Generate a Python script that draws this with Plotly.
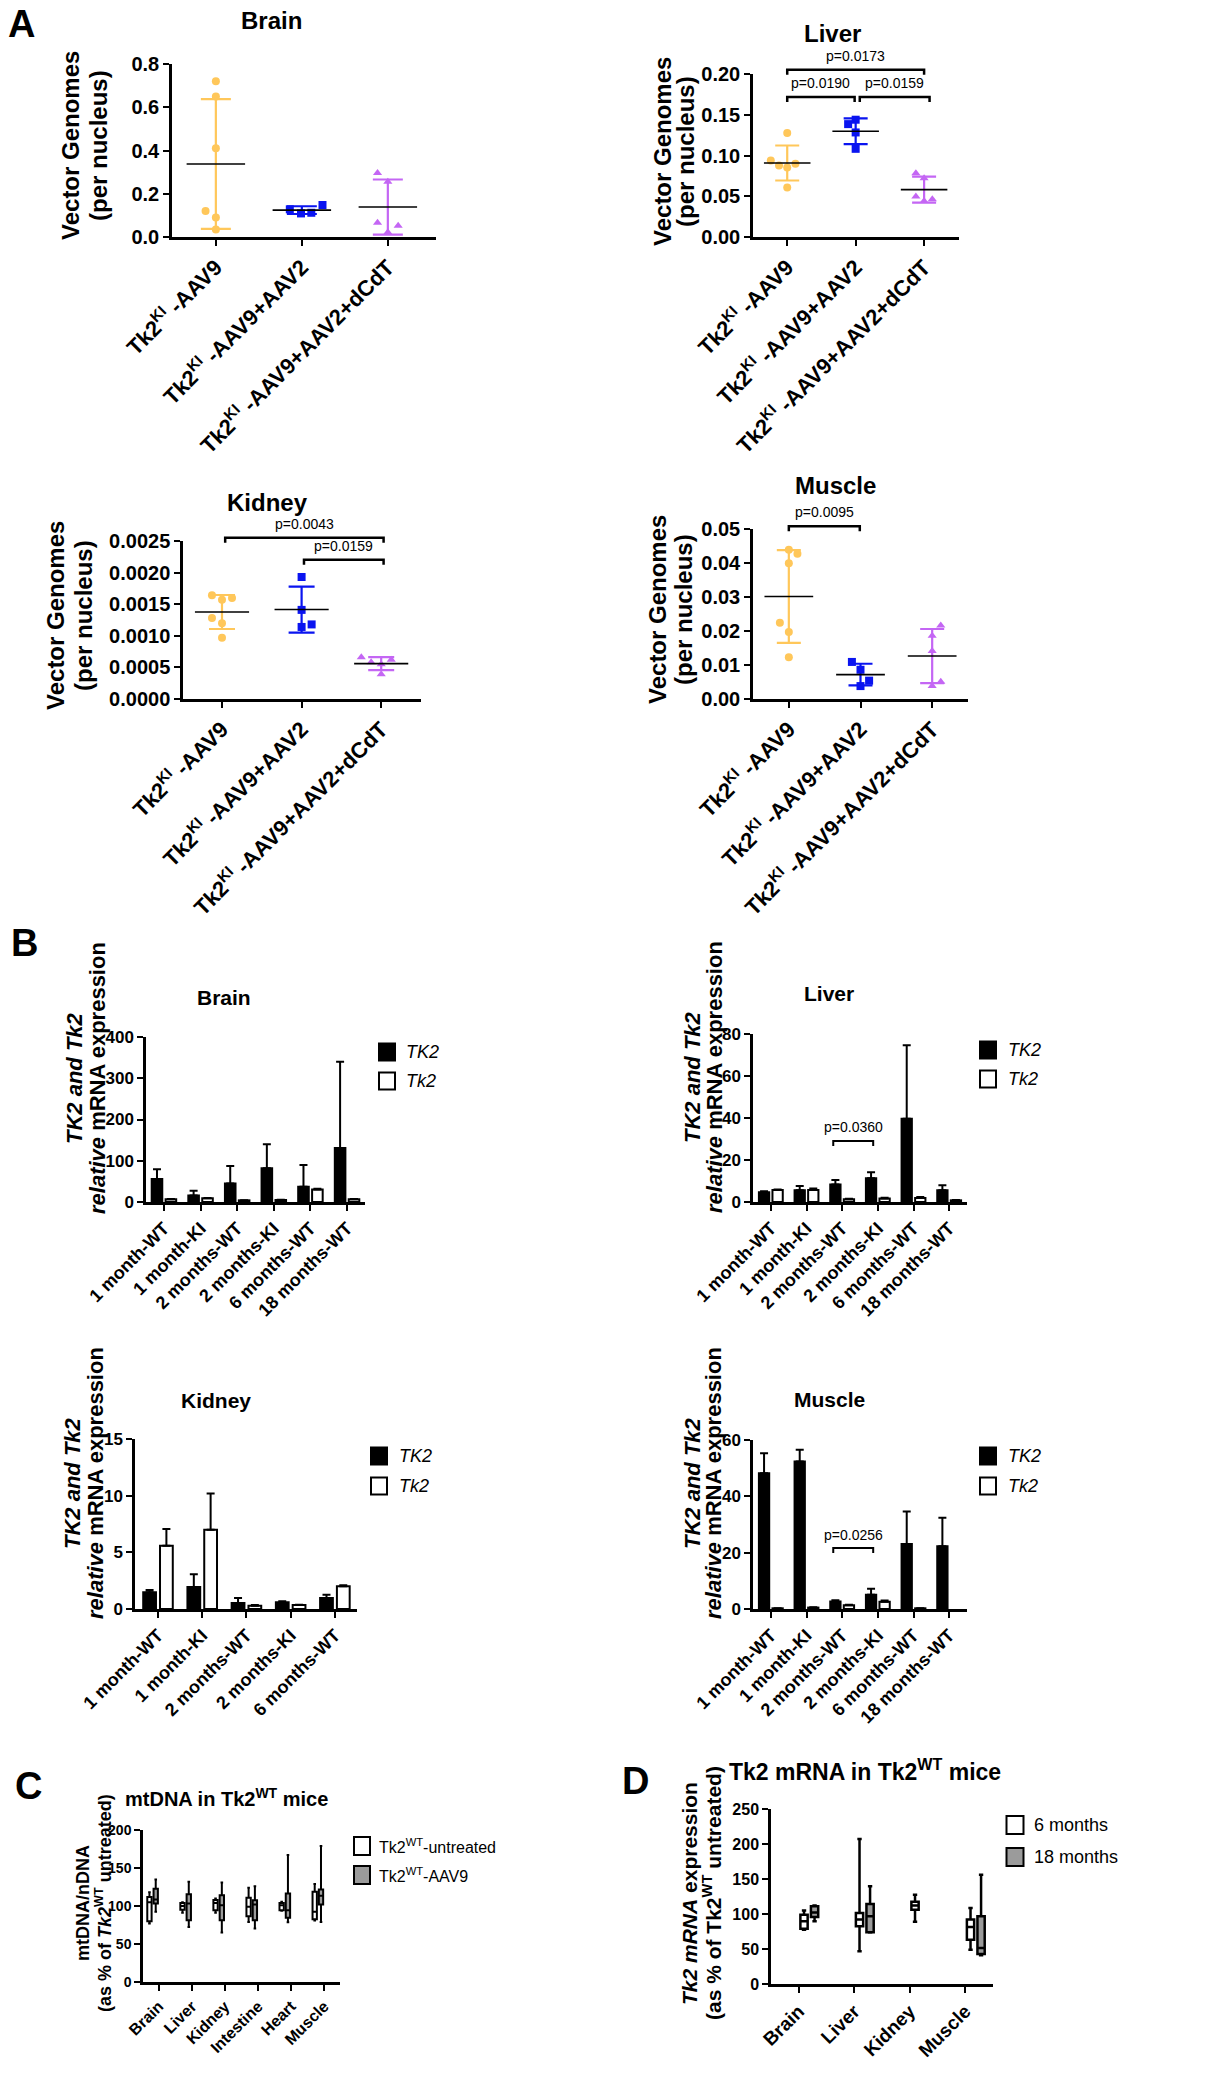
import numpy as np
import plotly.graph_objects as go

W, H = 1221, 2073
FONT = "Liberation Sans, Arial, Helvetica, sans-serif"

# ---------------- Panel A: vector genomes (per nucleus) ----------------
A_GROUPS = ["Tk2<sup>KI</sup> -AAV9",
            "Tk2<sup>KI</sup> -AAV9+AAV2",
            "Tk2<sup>KI</sup> -AAV9+AAV2+dCdT"]

A_BRAIN_AAV9 = [0.72, 0.65, 0.41, 0.12, 0.09, 0.035]
A_BRAIN_AAV9_AAV2 = [0.128, 0.109, 0.112, 0.148]
A_BRAIN_DCDT = [0.296, 0.256, 0.066, 0.052, 0.022]

A_LIVER_AAV9 = [0.1275, 0.0939, 0.0898, 0.0877, 0.0852, 0.0607]
A_LIVER_AAV9_AAV2 = [0.1439, 0.1385, 0.1283, 0.1082]
A_LIVER_DCDT = [0.0783, 0.0721, 0.0496, 0.0443, 0.0463]

A_KIDNEY_AAV9 = [0.00164, 0.00160, 0.00157, 0.00128, 0.00120, 0.00097]
A_KIDNEY_AAV9_AAV2 = [0.00193, 0.00141, 0.00114, 0.00118]
A_KIDNEY_DCDT = [0.00066, 0.00058, 0.00055, 0.00062, 0.00039]

A_MUSCLE_AAV9 = [0.0439, 0.0427, 0.0399, 0.0224, 0.0197, 0.0123]
A_MUSCLE_AAV9_AAV2 = [0.0109, 0.0086, 0.0054, 0.0038]
A_MUSCLE_DCDT = [0.0216, 0.0186, 0.0141, 0.0051, 0.0038]

A_PVALS_LIVER = ["p=0.0190", "p=0.0159", "p=0.0173"]
A_PVALS_KIDNEY = ["p=0.0043", "p=0.0159"]
A_PVALS_MUSCLE = ["p=0.0095"]

# ---------------- Panel B: TK2 / Tk2 relative mRNA expression ----------------
B_CATS = ["1 month-WT", "1 month-KI", "2 months-WT", "2 months-KI",
          "6 months-WT", "18 months-WT"]
B_CATS_KIDNEY = ["1 month-WT", "1 month-KI", "2 months-WT", "2 months-KI",
                 "6 months-WT"]

B_BRAIN_HTK2 = [55.6, 16.0, 45.0, 82.0, 37.0, 131.0]
B_BRAIN_HTK2_SEM = [24.0, 11.0, 42.0, 58.0, 53.0, 209.0]
B_BRAIN_MTK2 = [6.5, 8.9, 4.0, 4.8, 30.6, 6.5]
B_BRAIN_MTK2_SEM = [0.5, 1.0, 0.5, 0.5, 1.5, 0.8]

B_LIVER_HTK2 = [4.6, 5.6, 8.3, 11.3, 39.6, 5.6]
B_LIVER_HTK2_SEM = [0.5, 2.0, 2.2, 2.9, 35.0, 2.4]
B_LIVER_MTK2 = [5.7, 5.7, 1.3, 1.7, 1.9, 0.8]
B_LIVER_MTK2_SEM = [0.3, 0.7, 0.2, 0.3, 0.5, 0.2]

B_KIDNEY_HTK2 = [1.47, 1.94, 0.53, 0.59, 0.97]
B_KIDNEY_HTK2_SEM = [0.21, 1.12, 0.44, 0.09, 0.29]
B_KIDNEY_MTK2 = [5.59, 7.0, 0.29, 0.35, 2.0]
B_KIDNEY_MTK2_SEM = [1.47, 3.2, 0.06, 0.03, 0.1]

B_MUSCLE_HTK2 = [48.2, 52.4, 2.7, 5.1, 23.1, 22.3]
B_MUSCLE_HTK2_SEM = [7.1, 4.1, 0.4, 2.1, 11.5, 10.1]
B_MUSCLE_MTK2 = [0.24, 0.5, 1.3, 2.6, 0.25, None]
B_MUSCLE_MTK2_SEM = [0.05, 0.1, 0.2, 0.4, 0.05, 0.0]

B_PVAL_LIVER = "p=0.0360"
B_PVAL_MUSCLE = "p=0.0256"

# ---------------- Panel C: mtDNA in Tk2WT mice (box: min..max) ----------------
C_TISSUES = ["Brain", "Liver", "Kidney", "Intestine", "Heart", "Muscle"]
C_UNT_MIN = [77, 91, 91, 79, 93.6, 81]
C_UNT_Q1 = [80, 95, 94.5, 86.6, 94.5, 82.6]
C_UNT_MED = [105, 100, 104, 99, 101, 92.3]
C_UNT_Q3 = [112, 104, 108, 111, 104, 118.7]
C_UNT_MAX = [118, 105, 110, 124, 105.5, 128.8]
C_AAV_MIN = [92.3, 72.5, 65, 70.3, 78.7, 79]
C_AAV_Q1 = [103.3, 81.3, 81.3, 81.3, 84.4, 102]
C_AAV_MED = [108.6, 103.3, 101, 102, 94.5, 113.4]
C_AAV_Q3 = [122.6, 115.6, 114, 107.7, 116.5, 121.8]
C_AAV_MAX = [135, 132, 131, 126, 167, 179]

# ---------------- Panel D: Tk2 mRNA in Tk2WT mice ----------------
D_TISSUES = ["Brain", "Liver", "Kidney", "Muscle"]
D_6M_MIN = [77.6, 46.7, 89, 49]
D_6M_Q1 = [79, 82.4, 106, 63.3]
D_6M_MED = [89.5, 92, 112, 81.4]
D_6M_Q3 = [99, 101.4, 117.6, 92]
D_6M_MAX = [105, 207, 127.6, 108.6]
D_18M_TISSUES = ["Brain", "Liver", "Muscle"]
D_18M_MIN = [89.5, 73.5, 41]
D_18M_Q1 = [95.7, 74, 42.9]
D_18M_MED = [102, 96.7, 51.4]
D_18M_Q3 = [111, 114.3, 96.7]
D_18M_MAX = [112, 139.5, 156]

# ---------------- styles / layout geometry ----------------
A_COLORS = ["#FFC75A", "#0a14f0", "#C466F4"]
A_SYMBOLS = ["circle", "square", "triangle-up"]
GRAY = "#9b9b9b"

# horizontal jitter of the scatter points (category units)
JIT_A_BRAIN = [[0, 0, 0, -0.12, 0, 0], [-0.14, -0.01, 0.11, 0.24], [-0.12, 0, -0.12, 0.12, 0]]
JIT_A_LIVER = [[0, -0.24, 0.12, -0.12, 0, 0], [0, -0.11, 0, 0], [-0.12, 0, -0.12, 0, 0.12]]
JIT_A_KIDNEY = [[-0.126, 0.126, 0, -0.126, 0, 0], [0, 0, 0, 0.126], [-0.25, -0.126, 0, 0.126, 0]]
JIT_A_MUSCLE = [[0, 0.12, 0, -0.125, 0, 0], [-0.12, 0, 0.12, 0], [0.12, 0, 0, 0.12, 0]]

# subplot pixel boxes (left, right, top, bottom) and ranges
SP = {
    1: dict(px=(172, 436, 64, 237), xr=(-0.51, 2.56), yr=(0, 0.8)),
    2: dict(px=(753, 959, 74, 237), xr=(-0.5, 2.51), yr=(0, 0.20)),
    3: dict(px=(183, 421, 541, 699), xr=(-0.49, 2.5), yr=(0, 0.0025)),
    4: dict(px=(753, 968, 529, 699), xr=(-0.5, 2.5), yr=(0, 0.05)),
    5: dict(px=(146, 365, 1037, 1202), xr=(-0.49, 5.49), yr=(0, 400)),
    6: dict(px=(753, 967, 1034, 1202), xr=(-0.5, 5.5), yr=(0, 80)),
    7: dict(px=(135, 357, 1439, 1609), xr=(-0.52, 4.5), yr=(0, 15)),
    8: dict(px=(753, 967, 1440, 1609), xr=(-0.5, 5.5), yr=(0, 60)),
    9: dict(px=(143, 340, 1830, 1982), xr=(-0.48, 5.48), yr=(0, 200)),
    10: dict(px=(771, 993, 1809, 1984), xr=(-0.5, 3.5), yr=(0, 250)),
}


def ids(i):
    return ("x" if i == 1 else f"x{i}"), ("y" if i == 1 else f"y{i}")


def to_px(i, xv, yv):
    l, r, t, b = SP[i]["px"]
    x0, x1 = SP[i]["xr"]
    y0, y1 = SP[i]["yr"]
    return l + (xv - x0) / (x1 - x0) * (r - l), b - (yv - y0) / (y1 - y0) * (b - t)


fig = go.Figure()
shapes, annotations = [], []
layout_axes = {}


def F(size, bold=True, italic=False):
    return dict(family=FONT, size=size, color="black",
                weight="bold" if bold else "normal",
                style="italic" if italic else "normal")


def make_axes(i, tick_fs, cat_fs, ydtick, yfmt, xtype="category", tickvals=None, ticktext=None):
    l, r, t, b = SP[i]["px"]
    xid, yid = ids(i)
    xk = "xaxis" if i == 1 else f"xaxis{i}"
    yk = "yaxis" if i == 1 else f"yaxis{i}"
    xa = dict(domain=[l / W, r / W], anchor=yid, range=list(SP[i]["xr"]), type=xtype,
              showline=True, linecolor="black", linewidth=2.5, ticks="outside", ticklen=6,
              tickwidth=2, tickcolor="black", showgrid=False, zeroline=False, tickangle=-45,
              tickfont=F(cat_fs), fixedrange=True, automargin=False)
    if tickvals is not None:
        xa.update(tickmode="array", tickvals=tickvals, ticktext=ticktext)
    ya = dict(domain=[1 - b / H, 1 - t / H], anchor=xid, range=list(SP[i]["yr"]),
              showline=True, linecolor="black", linewidth=2.5, ticks="outside", ticklen=6,
              tickwidth=2, tickcolor="black", showgrid=False, zeroline=False,
              dtick=ydtick, tick0=0, tickformat=yfmt, tickfont=F(tick_fs), fixedrange=True,
              automargin=False)
    layout_axes[xk] = xa
    layout_axes[yk] = ya


def text(xp, yp, s, font, angle=0, xanchor="center"):
    annotations.append(dict(x=xp / W, y=1 - yp / H, xref="paper", yref="paper", text=s,
                            showarrow=False, font=font, textangle=angle,
                            xanchor=xanchor, yanchor="middle"))


def bracket(i, x0, x1, yv, label, lw=2.5, drop=5, fs=14, gap=14):
    p0, py = to_px(i, x0, yv)
    p1, _ = to_px(i, x1, yv)
    path = (f"M{p0 / W},{1 - (py + drop) / H} L{p0 / W},{1 - py / H} "
            f"L{p1 / W},{1 - py / H} L{p1 / W},{1 - (py + drop) / H}")
    shapes.append(dict(type="path", xref="paper", yref="paper", path=path,
                       line=dict(color="black", width=lw)))
    text((p0 + p1) / 2, py - gap, label, F(fs, bold=False))


# ---------------- Panel A ----------------
def panel_a(i, groups, jit, cap):
    xid, yid = ids(i)
    for g, (vals, col, sym) in enumerate(zip(groups, A_COLORS, A_SYMBOLS)):
        v = np.array(vals)
        m, sd = float(v.mean()), float(v.std(ddof=1))
        fig.add_trace(go.Scatter(x=[g], y=[m], mode="markers",
                                 marker=dict(size=2, color="rgba(0,0,0,0)"),
                                 error_y=dict(type="data", array=[sd], color=col,
                                              thickness=2.2, width=cap),
                                 xaxis=xid, yaxis=yid, showlegend=False, hoverinfo="skip"))
        fig.add_trace(go.Scatter(x=[g + j for j in jit[g]], y=vals, mode="markers",
                                 marker=dict(symbol=sym, size=8, color=col, line=dict(width=0)),
                                 xaxis=xid, yaxis=yid, showlegend=False, cliponaxis=False))
        fig.add_trace(go.Scatter(x=[g - 0.34, g + 0.34], y=[m, m], mode="lines",
                                 line=dict(color="black", width=1.6),
                                 xaxis=xid, yaxis=yid, showlegend=False, hoverinfo="skip"))


panel_a(1, [A_BRAIN_AAV9, A_BRAIN_AAV9_AAV2, A_BRAIN_DCDT], JIT_A_BRAIN, 15)
panel_a(2, [A_LIVER_AAV9, A_LIVER_AAV9_AAV2, A_LIVER_DCDT], JIT_A_LIVER, 12)
panel_a(3, [A_KIDNEY_AAV9, A_KIDNEY_AAV9_AAV2, A_KIDNEY_DCDT], JIT_A_KIDNEY, 13)
panel_a(4, [A_MUSCLE_AAV9, A_MUSCLE_AAV9_AAV2, A_MUSCLE_DCDT], JIT_A_MUSCLE, 12)

make_axes(1, 20, 22, 0.2, ".1f", "linear", [0, 1, 2], A_GROUPS)
make_axes(2, 20, 22, 0.05, ".2f", "linear", [0, 1, 2], A_GROUPS)
make_axes(3, 20, 22, 0.0005, ".4f", "linear", [0, 1, 2], A_GROUPS)
make_axes(4, 20, 22, 0.01, ".2f", "linear", [0, 1, 2], A_GROUPS)

bracket(2, 0, 0.985, 0.1717, A_PVALS_LIVER[0])
bracket(2, 1.06, 2.08, 0.1717, A_PVALS_LIVER[1])
bracket(2, 0, 2.0, 0.2053, A_PVALS_LIVER[2])
bracket(3, 0.04, 2.03, 0.002553, A_PVALS_KIDNEY[0])
bracket(3, 1.03, 2.03, 0.002205, A_PVALS_KIDNEY[1])
bracket(4, 0, 0.99, 0.0508, A_PVALS_MUSCLE[0])

text(271, 21, "Brain", F(24))
text(832, 33, "Liver", F(24))
text(267, 502, "Kidney", F(24))
text(835, 486, "Muscle", F(24))
for (x1, x2, yc) in [(70, 98, 146), (663, 686, 152), (56, 84, 616), (657, 683, 610)]:
    text(x1, yc, "Vector Genomes", F(24), angle=-90)
    text(x2, yc, "(per nucleus)", F(24), angle=-90)


# ---------------- Panel B ----------------
def panel_b(i, cats, h, hs, m, ms):
    xid, yid = ids(i)
    fig.add_trace(go.Bar(x=cats, y=h, marker=dict(color="black", line=dict(color="black", width=2)),
                         error_y=dict(type="data", symmetric=False, array=hs,
                                      arrayminus=[0] * len(hs), color="black", thickness=2, width=4),
                         xaxis=xid, yaxis=yid, showlegend=False))
    fig.add_trace(go.Bar(x=cats, y=m, marker=dict(color="white", line=dict(color="black", width=2)),
                         error_y=dict(type="data", symmetric=False, array=ms,
                                      arrayminus=[0] * len(ms), color="black", thickness=2, width=4),
                         xaxis=xid, yaxis=yid, showlegend=False))


panel_b(5, B_CATS, B_BRAIN_HTK2, B_BRAIN_HTK2_SEM, B_BRAIN_MTK2, B_BRAIN_MTK2_SEM)
panel_b(6, B_CATS, B_LIVER_HTK2, B_LIVER_HTK2_SEM, B_LIVER_MTK2, B_LIVER_MTK2_SEM)
panel_b(7, B_CATS_KIDNEY, B_KIDNEY_HTK2, B_KIDNEY_HTK2_SEM, B_KIDNEY_MTK2, B_KIDNEY_MTK2_SEM)
panel_b(8, B_CATS, B_MUSCLE_HTK2, B_MUSCLE_HTK2_SEM, B_MUSCLE_MTK2, B_MUSCLE_MTK2_SEM)

make_axes(5, 17, 18, 100, "d")
make_axes(6, 17, 18, 20, "d")
make_axes(7, 17, 18, 5, "d")
make_axes(8, 17, 18, 20, "d")

bracket(6, 1.75, 2.87, 29, B_PVAL_LIVER, lw=2)
bracket(8, 1.75, 2.87, 21.7, B_PVAL_MUSCLE, lw=2, gap=13)

text(224, 997, "Brain", F(21))
text(829, 993, "Liver", F(21))
text(216, 1400, "Kidney", F(21))
text(829, 1399, "Muscle", F(21))
for (x1, x2, yc) in [(74, 97, 1078), (692, 714, 1077), (72, 95, 1483), (692, 713, 1483)]:
    text(x1, yc, "<i>TK2 and Tk2</i>", F(22), angle=-90)
    text(x2, yc, "<i>relative</i> mRNA expression", F(22), angle=-90)


def legend_entry(xc, yc, w, h, fill, label, fs, tx):
    shapes.append(dict(type="rect", xref="paper", yref="paper",
                       x0=(xc - w / 2) / W, x1=(xc + w / 2) / W,
                       y0=1 - (yc + h / 2) / H, y1=1 - (yc - h / 2) / H,
                       fillcolor=fill, line=dict(color="black", width=2)))
    text(tx, yc, label, F(fs, bold=False), xanchor="left")


for (sx, y1, y2, tx) in [(387, 1052, 1081, 404), (988, 1050, 1079, 1006),
                         (379, 1456, 1486, 397), (988, 1456, 1486, 1006)]:
    legend_entry(sx, y1, 16, 17, "black", "<i>TK2</i>", 18, tx)
    legend_entry(sx, y2, 16, 17, "white", "<i>Tk2</i>", 18, tx)


# ---------------- Panels C and D ----------------
def boxes(i, cats, mn, q1, med, q3, mx, fill, lw):
    xid, yid = ids(i)
    fig.add_trace(go.Box(x=cats, lowerfence=mn, q1=q1, median=med, q3=q3, upperfence=mx,
                         fillcolor=fill, line=dict(color="black", width=lw), whiskerwidth=0.6,
                         boxpoints=False, xaxis=xid, yaxis=yid, showlegend=False))


boxes(9, C_TISSUES, C_UNT_MIN, C_UNT_Q1, C_UNT_MED, C_UNT_Q3, C_UNT_MAX, "white", 2)
boxes(9, C_TISSUES, C_AAV_MIN, C_AAV_Q1, C_AAV_MED, C_AAV_Q3, C_AAV_MAX, GRAY, 2)
boxes(10, D_TISSUES, D_6M_MIN, D_6M_Q1, D_6M_MED, D_6M_Q3, D_6M_MAX, "white", 2.5)
boxes(10, D_18M_TISSUES, D_18M_MIN, D_18M_Q1, D_18M_MED, D_18M_Q3, D_18M_MAX, GRAY, 2.5)

make_axes(9, 14, 16, 50, "d")
make_axes(10, 16, 19, 50, "d")
layout_axes["xaxis10"]["categoryarray"] = D_TISSUES
layout_axes["xaxis10"]["categoryorder"] = "array"

text(226, 1797, "mtDNA in Tk2<sup>WT</sup> mice", F(20))
text(83, 1903, "mtDNA/nDNA", F(18), angle=-90)
text(103, 1903, "(as % of <i>Tk2</i><sup>WT</sup> untreated)", F(18), angle=-90)
legend_entry(362, 1846, 16, 18, "white", "Tk2<sup>WT</sup>-untreated", 16, 377)
legend_entry(362, 1875, 16, 18, GRAY, "Tk2<sup>WT</sup>-AAV9", 16, 377)

text(865, 1770, "Tk2 mRNA in Tk2<sup>WT</sup> mice", F(23))
text(689, 1893, "<i>Tk2 mRNA</i> expression", F(21), angle=-90)
text(712, 1893, "(as % of Tk2<sup>WT</sup> untreated)", F(21), angle=-90)
legend_entry(1015, 1825, 17, 18, "white", "6 months", 18, 1032)
legend_entry(1015, 1857, 17, 18, GRAY, "18 months", 18, 1032)

# panel letters
text(21, 24, "A", F(38))
text(24, 943, "B", F(38))
text(28, 1786, "C", F(38))
text(635, 1781, "D", F(38))

fig.update_layout(template="none", width=W, height=H, autosize=False,
                  margin=dict(l=0, r=0, t=0, b=0, pad=0),
                  paper_bgcolor="white", plot_bgcolor="white",
                  barmode="group", bargap=0.24, bargroupgap=0.24,
                  boxmode="group", boxgap=0.24, boxgroupgap=0.31,
                  showlegend=False, shapes=shapes, annotations=annotations,
                  font=dict(family=FONT, color="black"), **layout_axes)

fig.write_html("out.html", config={"displayModeBar": False},
               post_script="document.body.style.margin='0';document.body.style.overflow='hidden';")
